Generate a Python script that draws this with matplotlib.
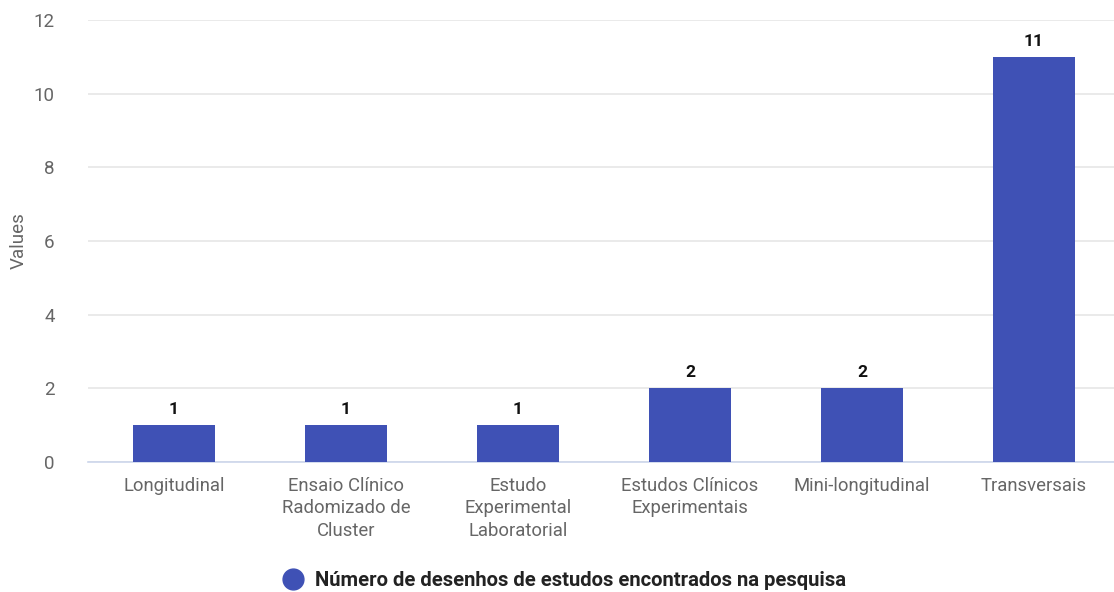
import matplotlib
matplotlib.use("Agg")
import matplotlib.pyplot as plt
from matplotlib.lines import Line2D

plt.rcParams['font.family'] = ['Roboto', 'DejaVu Sans']

categories = ["Longitudinal", "Ensaio Clínico\nRadomizado de\nCluster", "Estudo\nExperimental\nLaboratorial",
              "Estudos Clínicos\nExperimentais", "Mini-longitudinal", "Transversais"]
values = [1, 1, 1, 2, 2, 11]
series_name = "Número de desenhos de estudos encontrados na pesquisa"
yticks = [0, 2, 4, 6, 8, 10, 12]

W, H = 1114, 592
fig = plt.figure(figsize=(W/100, H/100), dpi=100)
ax = fig.add_axes([88/W, 1 - 462/H, (1114-88)/W, (462-20)/H])

x = list(range(len(categories)))
bars = ax.bar(x, values, width=0.48, color="#3F51B5", zorder=3)
for xi, v in zip(x, values):
    ax.text(xi, v + 0.22, str(v), ha="center", va="bottom", fontsize=12.5, fontweight="bold", color="#111111")

ax.set_xlim(-0.5, 5.465)
ax.set_ylim(0, 12)
ax.set_yticks(yticks)
ax.set_yticklabels([str(t) for t in yticks], fontsize=13.5, color="#666666")
ax.set_xticks(x)
ax.set_xticklabels(categories, fontsize=13.3, color="#666666", linespacing=1.3, va="top")
ax.tick_params(axis="both", length=0)
ax.tick_params(axis="y", pad=24)
ax.tick_params(axis="x", pad=11)
ax.grid(axis="y", color="#e6e6e6", linewidth=1.2, zorder=0)
for s in ["top", "right", "left"]:
    ax.spines[s].set_visible(False)
ax.spines["bottom"].set_color("#ccd6eb")
ax.spines["bottom"].set_linewidth(1.2)
ax.set_ylabel("Values", fontsize=13.5, color="#666666")
ax.yaxis.set_label_coords(-60/1026, 0.5)

handle = Line2D([0], [0], marker="o", linestyle="none", markersize=15, markerfacecolor="#3F51B5", markeredgecolor="#3F51B5")
leg = fig.legend([handle], [series_name], loc="center", bbox_to_anchor=(559.5/W, 1 - 581/H),
                 frameon=False, prop={"size": 14.6, "weight": "bold"}, handletextpad=0.1, borderaxespad=0)
for t in leg.get_texts():
    t.set_color("#222222")

fig.savefig("out.png", dpi=100)
